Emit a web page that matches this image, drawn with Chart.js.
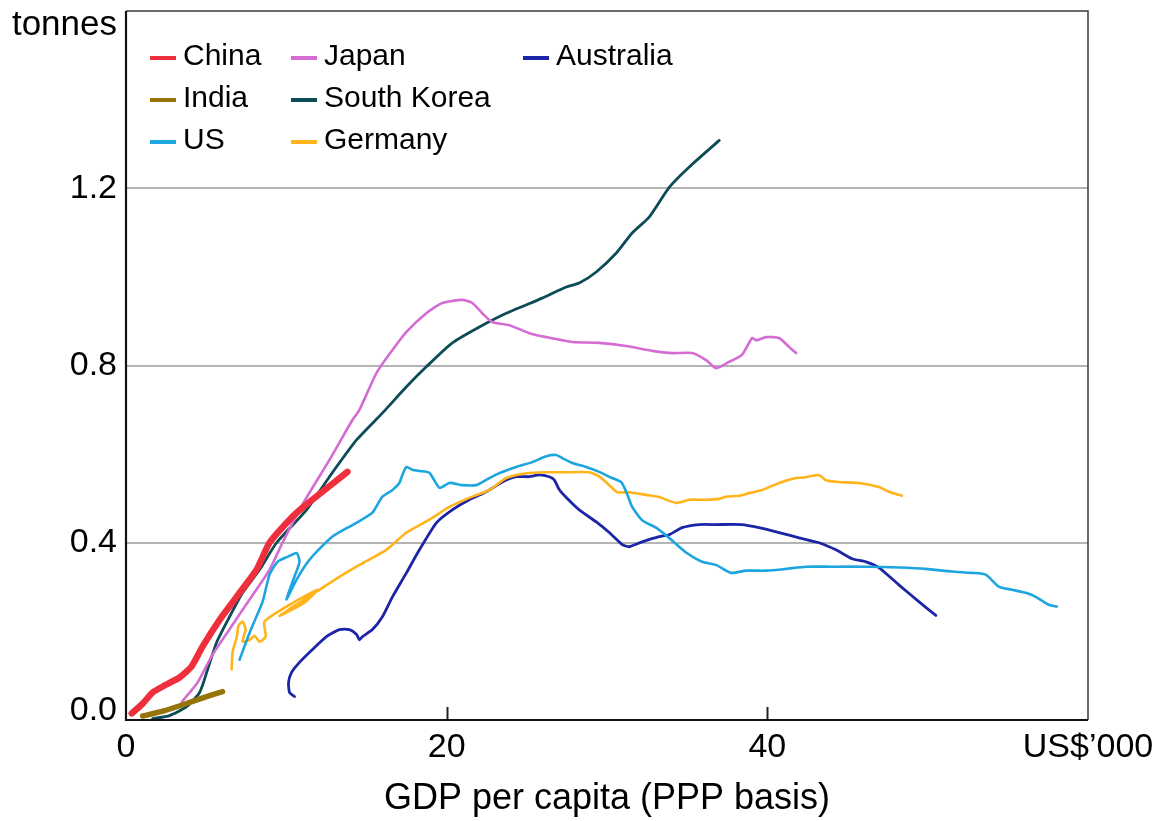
<!DOCTYPE html>
<html><head><meta charset="utf-8">
<script src="https://cdn.jsdelivr.net/npm/chart.js@4.4.1/dist/chart.umd.min.js"></script>
<style>html,body{margin:0;padding:0;background:#fff}canvas{display:block}</style>
</head><body>
<canvas id="c" width="1157" height="821"></canvas>
<script>
// Steel consumption per capita (tonnes) vs GDP per capita (US$'000, PPP)
const china = [[0.36,0.015],[1.04,0.037],[1.66,0.062],[2.41,0.078],[3.35,0.096],[4.09,0.121],[4.78,0.166],[5.84,0.226],[6.90,0.278],[8.14,0.339],[8.95,0.400],[10.20,0.452],[11.0,0.479],[12.07,0.510],[13.81,0.560]];
const india = [[1.04,0.009],[2.3,0.020],[3.6,0.035],[4.8,0.050],[6.02,0.064]];
const us = [[7.08,0.136],[7.71,0.197],[8.52,0.267],[8.95,0.328],[9.45,0.357],[10.07,0.368],[10.64,0.377],[10.82,0.357],[10.39,0.312],[10.01,0.272],[10.64,0.317],[11.45,0.362],[12.88,0.414],[14.37,0.445],[15.37,0.468],[15.99,0.504],[16.62,0.519],[17.05,0.535],[17.24,0.553],[17.49,0.571],[17.86,0.565],[18.30,0.562],[18.92,0.558],[19.55,0.524],[20.17,0.535],[20.98,0.530],[21.85,0.530],[22.47,0.542],[23.28,0.557],[24.34,0.571],[25.34,0.582],[26.21,0.595],[26.83,0.598],[27.21,0.591],[27.83,0.580],[28.70,0.571],[29.51,0.560],[30.32,0.546],[30.88,0.537],[31.20,0.515],[31.57,0.481],[32.19,0.451],[33.06,0.434],[33.87,0.411],[34.93,0.378],[35.93,0.357],[36.80,0.350],[37.74,0.332],[38.67,0.337],[39.92,0.337],[41.16,0.341],[42.41,0.346],[44.03,0.346],[46.15,0.346],[48.20,0.344],[49.88,0.341],[51.50,0.335],[52.75,0.332],[53.62,0.328],[54.43,0.301],[55.24,0.294],[56.11,0.287],[56.74,0.278],[57.55,0.260],[58.05,0.256]];
const japan = [[3.48,0.041],[3.97,0.062],[4.47,0.085],[5.41,0.148],[6.46,0.205],[7.71,0.272],[8.95,0.339],[9.76,0.400],[11.0,0.486],[12.69,0.587],[14.12,0.677],[14.56,0.700],[15.62,0.783],[16.62,0.835],[17.49,0.876],[18.73,0.918],[19.73,0.941],[20.98,0.948],[21.60,0.941],[22.22,0.918],[22.85,0.898],[23.91,0.891],[25.16,0.873],[26.22,0.864],[27.84,0.853],[29.51,0.851],[31.20,0.844],[32.82,0.833],[34.06,0.828],[35.31,0.828],[36.18,0.812],[36.81,0.794],[37.61,0.808],[38.42,0.824],[39.05,0.862],[39.30,0.857],[39.92,0.864],[40.73,0.862],[41.35,0.842],[41.79,0.828]];
const southKorea = [[1.66,0.003],[2.72,0.010],[3.78,0.030],[4.59,0.062],[5.09,0.114],[5.65,0.175],[6.46,0.233],[7.27,0.287],[8.33,0.339],[9.39,0.400],[11.26,0.474],[12.69,0.549],[14.38,0.632],[16.0,0.693],[17.49,0.752],[18.73,0.797],[20.35,0.851],[22.04,0.887],[23.72,0.918],[25.96,0.952],[27.46,0.977],[28.27,0.986],[29.33,1.011],[30.58,1.054],[31.57,1.099],[32.63,1.135],[33.88,1.202],[35.13,1.248],[37.0,1.308]];
const germany = [[6.59,0.114],[6.65,0.154],[6.90,0.186],[7.02,0.213],[7.27,0.222],[7.46,0.204],[7.27,0.177],[7.71,0.181],[8.02,0.190],[8.33,0.177],[8.71,0.188],[8.64,0.222],[10.20,0.260],[11.94,0.294],[11.13,0.265],[9.58,0.235],[10.82,0.265],[12.07,0.294],[13.31,0.323],[14.56,0.350],[16.24,0.384],[17.49,0.423],[18.92,0.452],[20.17,0.481],[21.60,0.504],[22.66,0.519],[23.72,0.546],[24.97,0.557],[26.21,0.559],[27.46,0.559],[28.89,0.559],[29.51,0.550],[30.14,0.530],[30.64,0.514],[31.38,0.514],[32.44,0.508],[33.25,0.503],[34.31,0.490],[35.12,0.497],[36.18,0.497],[36.99,0.499],[37.43,0.504],[38.24,0.506],[38.86,0.512],[39.67,0.519],[40.73,0.535],[41.79,0.546],[42.41,0.548],[43.22,0.553],[43.66,0.541],[44.47,0.537],[45.71,0.535],[46.96,0.526],[47.58,0.515],[48.39,0.506]];
const australia = [[10.51,0.053],[10.20,0.062],[10.14,0.085],[10.32,0.107],[10.82,0.130],[11.63,0.159],[12.50,0.188],[13.31,0.204],[13.94,0.204],[14.38,0.193],[14.56,0.181],[14.75,0.188],[15.37,0.204],[15.99,0.233],[16.62,0.278],[17.49,0.332],[18.30,0.384],[19.36,0.445],[20.35,0.474],[21.41,0.497],[22.47,0.515],[23.47,0.537],[24.34,0.549],[25.15,0.549],[25.78,0.553],[26.40,0.549],[26.71,0.542],[27.02,0.520],[27.46,0.502],[28.27,0.474],[29.33,0.447],[30.14,0.423],[30.95,0.396],[31.38,0.391],[32.19,0.402],[33.25,0.414],[33.88,0.418],[34.68,0.434],[35.74,0.441],[36.80,0.441],[38.42,0.441],[39.48,0.434],[40.73,0.423],[41.98,0.411],[43.22,0.400],[44.28,0.384],[45.28,0.364],[46.15,0.357],[46.96,0.344],[48.20,0.305],[49.45,0.267],[50.51,0.236]];

const seriesNames = ['China','India','US','Japan','South Korea','Germany','Australia'];
const seriesData = [china, india, us, japan, southKorea, germany, australia];
const seriesColors = ['#EF2F3C','#977409','#1DA5E0','#D56CD4','#0D4C56','#FFB41C','#1B25A6'];
const seriesWidths = [6.5, 5.5, 2.6, 2.6, 2.8, 2.6, 2.8];
const xTickValues = [0, 20, 40, 60];
const xTickLabels = ['0', '20', '40', 'US$\u2019000'];
const yTickValues = [0, 0.4, 0.8, 1.2];
const yTickLabels = ['0.0', '0.4', '0.8', '1.2'];
const xTitle = 'GDP per capita (PPP basis)';
const yUnit = 'tonnes';

const FONT = "'Liberation Sans', Arial, sans-serif";
Chart.defaults.font.family = FONT;
Chart.defaults.color = '#000';

const datasets = seriesNames.map((name, i) => ({
  label: name,
  data: seriesData[i].map(p => ({x: p[0], y: p[1]})),
  borderColor: seriesColors[i],
  backgroundColor: seriesColors[i],
  borderWidth: seriesWidths[i],
  pointRadius: 0,
  tension: 0.2,
  borderCapStyle: 'round',
  borderJoinStyle: 'round',
  fill: false,
  order: i
}));

const legendLayout = [[150,57],[150,99],[150,141],[291,57],[291,99],[291,141],[523,57]];

const decorPlugin = {
  id: 'decor',
  afterDatasetsDraw(chart) {
    const {ctx, chartArea: {left, right, top, bottom}, scales: {x}} = chart;
    ctx.save();
    // inner x ticks
    ctx.strokeStyle = '#222'; ctx.lineWidth = 2;
    xTickValues.slice(1, -1).forEach(v => {
      const px = Math.round(x.getPixelForValue(v)) + 0.5;
      ctx.beginPath(); ctx.moveTo(px, bottom); ctx.lineTo(px, bottom - 13); ctx.stroke();
    });
    // frame
    ctx.strokeStyle = '#3a3a3a'; ctx.lineWidth = 1.5;
    ctx.beginPath(); ctx.moveTo(left, top); ctx.lineTo(right, top); ctx.lineTo(right, bottom); ctx.stroke();
    ctx.strokeStyle = '#111'; ctx.lineWidth = 2.2;
    ctx.beginPath(); ctx.moveTo(left, top); ctx.lineTo(left, bottom); ctx.lineTo(right, bottom); ctx.stroke();
    // legend
    ctx.textAlign = 'left'; ctx.textBaseline = 'middle';
    ctx.font = '30px ' + FONT; ctx.fillStyle = '#000';
    chart.data.datasets.forEach((ds, i) => {
      const [lx, ly] = legendLayout[i];
      ctx.strokeStyle = ds.borderColor; ctx.lineWidth = 4; ctx.lineCap = 'butt';
      ctx.beginPath(); ctx.moveTo(lx, ly + 1); ctx.lineTo(lx + 26, ly + 1); ctx.stroke();
      ctx.fillText(ds.label, lx + 33, ly);
    });
    // unit label
    ctx.textAlign = 'right'; ctx.textBaseline = 'alphabetic';
    ctx.font = '35px ' + FONT;
    ctx.fillText(yUnit, 117, 35);
    ctx.restore();
  }
};

new Chart(document.getElementById('c'), {
  type: 'line',
  data: {datasets},
  options: {
    responsive: false,
    animation: false,
    events: [],
    layout: {padding: {left: 0, right: 69, top: 11, bottom: 0}},
    plugins: {legend: {display: false}, tooltip: {enabled: false}},
    scales: {
      x: {
        type: 'linear', min: 0, max: 60,
        afterBuildTicks: s => { s.ticks = xTickValues.map(v => ({value: v})); },
        ticks: {
          autoSkip: false, maxRotation: 0, padding: 7,
          font: {size: 34},
          color: '#000',
          callback: v => { const i = xTickValues.indexOf(v); return i >= 0 ? xTickLabels[i] : ''; }
        },
        grid: {display: false, drawTicks: false},
        border: {display: false},
        title: {display: true, text: xTitle, font: {size: 36}, color: '#000', padding: {top: 0, bottom: 0}},
        afterFit: s => { s.height = 101; s.paddingLeft = 0; s.paddingRight = 0; }
      },
      y: {
        type: 'linear', min: 0, max: 1.6,
        afterBuildTicks: s => { s.ticks = yTickValues.map(v => ({value: v})); },
        ticks: {
          padding: 9, color: '#000',
          font: ctx => ({size: 34, lineHeight: (ctx.tick && ctx.tick.value < 0.01) ? '18px' : 1.2}),
          callback: v => { const i = yTickValues.indexOf(v); if (i < 0) return ''; return v === 0 ? [yTickLabels[i], ''] : yTickLabels[i]; }
        },
        grid: {
          drawTicks: false, lineWidth: 2,
          color: ctx => (ctx.tick && ctx.tick.value > 0.01) ? '#b4b4b4' : 'rgba(0,0,0,0)'
        },
        border: {display: false},
        afterFit: s => { s.width = 126; s.paddingTop = 0; s.paddingBottom = 0; }
      }
    }
  },
  plugins: [decorPlugin]
});
</script>
</body></html>
